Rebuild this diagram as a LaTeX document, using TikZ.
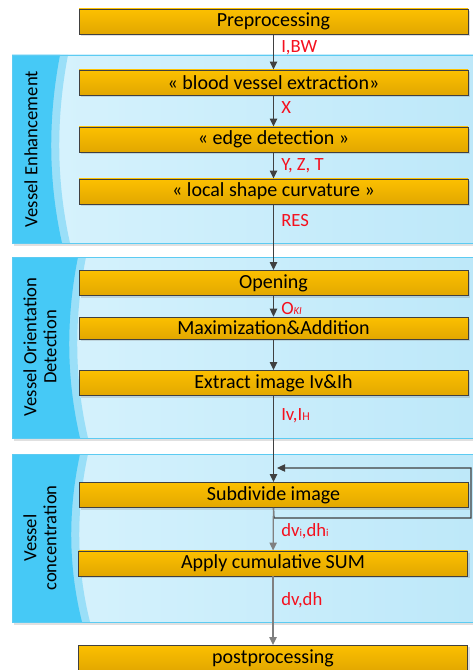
\documentclass[tikz,border=0pt]{standalone}
\usepackage{fontspec}
\setmainfont{Carlito}
\usetikzlibrary{arrows.meta,shadows}

\definecolor{stripblue}{HTML}{46C9F6}
\definecolor{bandblue}{HTML}{9ADFF8}
\definecolor{panelleft}{HTML}{D8F3FD}
\definecolor{panelright}{HTML}{BDE8F9}
\definecolor{panelline}{HTML}{5CCBF2}
\definecolor{goldtop}{HTML}{FCC000}
\definecolor{goldbot}{HTML}{E2A700}
\definecolor{arrdark}{HTML}{404040}
\definecolor{arrgray}{HTML}{808080}
\definecolor{labred}{HTML}{F5101E}

\tikzset{
    stepbox/.style={draw=arrdark, top color=goldtop, bottom color=goldbot,
        minimum width=291.75pt, minimum height=19pt, inner sep=0pt,
        font=\fontsize{15}{17}\selectfont,
        drop shadow={shadow xshift=1.5pt, shadow yshift=-1.5pt, opacity=0.25}},
    lab/.style={anchor=west, text=labred, inner sep=0pt, font=\fontsize{14}{16}\selectfont},
    side/.style={rotate=90, align=center, font=\fontsize{14}{15}\selectfont},
    arr/.style={draw=arrdark, line width=0.9pt, -{Triangle[length=6pt,width=5.5pt]}},
    arrg/.style={arr, draw=arrgray}
}

\begin{document}
\begin{tikzpicture}[x=0.75pt,y=-0.75pt]
    \useasboundingbox (0,0) rectangle (472,670);
    \fill[white] (0,0) rectangle (472,670);
    % panels
    \foreach \top/\bot/\xe in {55/243/60, 257/438/78, 454/622/80} {
        \fill[black!12] (14,\top+3) rectangle (480,\bot+3);
        \shade[left color=panelleft, right color=panelright] (12,\top) rectangle (480,\bot);
        \fill[bandblue] (12,\top) -- ({\xe+8},\top)
            .. controls ({\xe-4},{\top+(\bot-\top)/3}) and ({\xe-4},{\top+2*(\bot-\top)/3}) .. ({\xe+10},\bot)
            -- (12,\bot) -- cycle;
        \fill[stripblue] (12,\top) -- (\xe,\top)
            .. controls ({\xe-12},{\top+(\bot-\top)/3}) and ({\xe-12},{\top+2*(\bot-\top)/3}) .. ({\xe+2},\bot)
            -- (12,\bot) -- cycle;
        \draw[panelline, line width=0.6pt] (480,\top) -- (12,\top) -- (12,\bot) -- (480,\bot);
    }
    \node[side] (venh) at (31,149) {Vessel Enhancement};
    \node[side] (vori) at (40,347) {Vessel Orientation\\Detection};
    \node[side] (vcon) at (40,538) {Vessel\\concentration};
    % steps
    \node[stepbox] (pre) at (273.5,21.5) {Preprocessing};
    \node[stepbox] (blood) at (273.5,82.5) {« blood vessel extraction»};
    \node[stepbox] (edge) at (273.5,139.5) {« edge detection »};
    \node[stepbox] (curv) at (273.5,191.5) {« local shape curvature »};
    \node[stepbox] (open) at (273.5,283) {Opening};
    \node[stepbox, minimum height=16.5pt] (maxadd) at (273.5,328) {Maximization\&Addition};
    \node[stepbox] (extr) at (273.5,383) {Extract image Iv\&Ih};
    \node[stepbox] (subd) at (273.5,495) {Subdivide image};
    \node[stepbox] (csum) at (273,563.5) {Apply cumulative SUM};
    \node[stepbox] (post) at (273,658) {postprocessing};
    % connectors
    \draw[arr] (pre) -- (blood);
    \draw[arr] (blood) -- (edge);
    \draw[arr] (edge) -- (curv);
    \draw[arr] (curv) -- (open);
    \draw[arr] (open) -- (maxadd);
    \draw[arr] (maxadd) -- (extr);
    \draw[arr] (extr) -- (subd);
    \coordinate (loopa) at (274,518);
    \coordinate (loopb) at (471,468);
    \coordinate (loopc) at (277,468);
    \draw[arr] (subd.south) -- (loopa) -| (loopb) -- (loopc);
    \draw[arrg] (subd) -- (csum);
    \draw[arrg] (csum) -- (post);
    % labels
    \node[lab] (lbw) at (281,48) {I,BW};
    \node[lab] (lx) at (281,108) {X};
    \node[lab] (lyzt) at (281,166) {Y, Z, T};
    \node[lab] (lres) at (281,221) {RES};
    \node[lab] (lok) at (281,309) {O{\fontsize{8}{8}\selectfont\itshape KI}};
    \node[lab] (livh) at (281,416) {Iv,I{\fontsize{9}{9}\selectfont H}};
    \node[lab] (ldvi) at (281,531) {dv{\fontsize{8}{8}\selectfont i},dh{\fontsize{8}{8}\selectfont i}};
    \node[lab] (ldv) at (281,600) {dv,dh};
\end{tikzpicture}
\end{document}
